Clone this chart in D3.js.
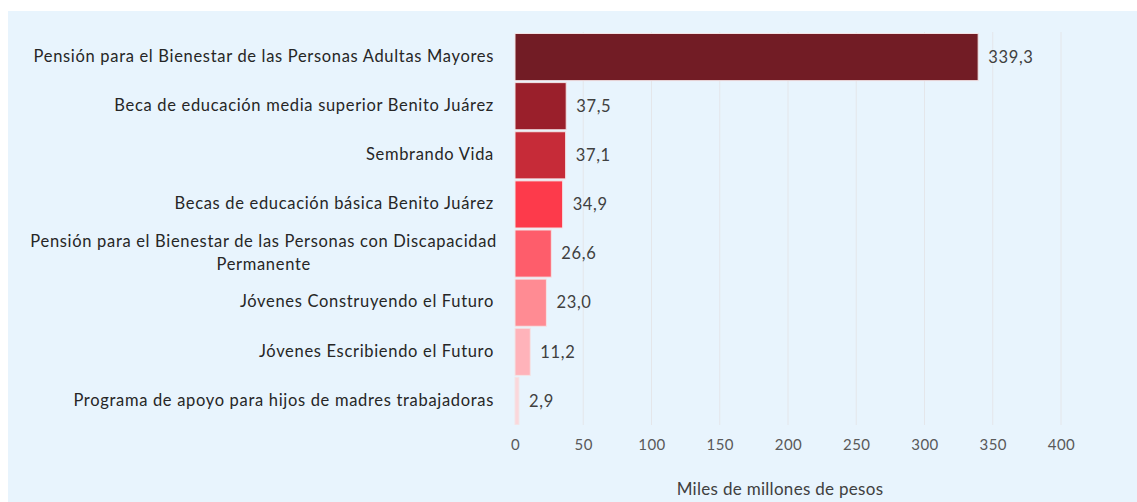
<!DOCTYPE html>
<html>
<head>
<meta charset="utf-8">
<script src="https://cdn.jsdelivr.net/npm/d3@7"></script>
<style>
    html, body { margin: 0; padding: 0; background: #ffffff; }
    svg { display: block; font-family: "Lato", "Open Sans", sans-serif; }
</style>
</head>
<body>
<div id="chart"></div>
<script>
// data
const categories = [
    "Pensión para el Bienestar de las Personas Adultas Mayores",
    "Beca de educación media superior Benito Juárez",
    "Sembrando Vida",
    "Becas de educación básica Benito Juárez",
    "Pensión para el Bienestar de las Personas con Discapacidad\nPermanente",
    "Jóvenes Construyendo el Futuro",
    "Jóvenes Escribiendo el Futuro",
    "Programa de apoyo para hijos de madres trabajadoras"
];
const values = [339.3, 37.5, 37.1, 34.9, 26.6, 23.0, 11.2, 2.9];
const barColors = ["#721c25", "#9a1f2b", "#c62b38", "#fd3a4b", "#fe5d6b", "#ff8b93", "#ffb3ba", "#fbd7db"];
const xTicks = [0, 50, 100, 150, 200, 250, 300, 350, 400];
const xTitle = "Miles de millones de pesos";

const W = 1137, H = 502;
const plotLeft = 515, plotRight = 1061, plotTop = 33, plotBottom = 425;
const labelRight = 494;
const fontSize = 16.5, spacing = "0.68px";

const fmt = (v) => v.toFixed(1).replace(".", ",");

const svg = d3.select("#chart")
    .append("svg")
    .attr("width", W)
    .attr("height", H);

// light panel
svg.append("rect")
    .attr("x", 8)
    .attr("y", 11)
    .attr("width", W - 8)
    .attr("height", H - 11)
    .attr("fill", "#e8f4fd");

const x = d3.scaleLinear().domain([0, 400]).range([plotLeft, plotRight]);
const y = d3.scaleBand().domain(categories).range([plotTop, plotBottom]).paddingInner(0.04).paddingOuter(0.01);

// gridlines
svg.append("g")
    .selectAll("line")
    .data(xTicks.slice(1))
    .enter()
    .append("line")
    .attr("x1", (d) => x(d))
    .attr("x2", (d) => x(d))
    .attr("y1", plotTop - 1)
    .attr("y2", plotBottom)
    .attr("stroke", "#e4e6ea")
    .attr("stroke-width", 1);

// x axis (labels only)
const xAxis = svg.append("g")
    .attr("transform", `translate(0, ${plotBottom + 14})`)
    .call(d3.axisBottom(x).tickValues(xTicks).tickSize(0).tickPadding(0).tickFormat(d3.format("d")));
xAxis.select(".domain").remove();
xAxis.selectAll("text")
    .attr("font-size", 15)
    .attr("font-family", "Lato, sans-serif")
    .attr("letter-spacing", "0.5px")
    .attr("fill", "#595959")
    .attr("dy", "0.71em");

svg.append("text")
    .attr("x", (plotLeft + plotRight) / 2 - 8)
    .attr("y", 495)
    .attr("text-anchor", "middle")
    .attr("font-size", 17)
    .attr("letter-spacing", "0.3px")
    .attr("fill", "#404040")
    .text(xTitle);

// bars
svg.append("g")
    .selectAll("rect")
    .data(values)
    .enter()
    .append("rect")
    .attr("x", x(0))
    .attr("y", (d, i) => y(categories[i]))
    .attr("width", (d) => x(d) - x(0))
    .attr("height", y.bandwidth())
    .attr("fill", (d, i) => barColors[i])
    .attr("stroke", "#f3e4e6")
    .attr("stroke-width", 1);

// value labels
svg.append("g")
    .selectAll("text")
    .data(values)
    .enter()
    .append("text")
    .attr("x", (d) => x(d) + 10)
    .attr("y", (d, i) => y(categories[i]) + y.bandwidth() / 2)
    .attr("dy", "0.35em")
    .attr("font-size", fontSize)
    .attr("letter-spacing", spacing)
    .attr("fill", "#404040")
    .text((d) => fmt(d));

// category labels (wrapped ones are centred as a block)
const catG = svg.append("g");
categories.forEach((cat, i) => {
    const lines = cat.split("\n");
    const cy = y(cat) + y.bandwidth() / 2;
    const lh = 23;
    const t = catG.append("text")
        .attr("font-size", fontSize)
        .attr("letter-spacing", spacing)
        .attr("fill", "#262626");
    lines.forEach((line, j) => {
        t.append("tspan")
            .attr("x", labelRight)
            .attr("y", cy + (j - (lines.length - 1) / 2) * lh - 1)
            .attr("dy", "0.35em")
            .text(line);
    });
    if (lines.length > 1) {
        const widths = t.selectAll("tspan").nodes().map(n => n.getComputedTextLength());
        const maxW = d3.max(widths);
        t.attr("text-anchor", "middle")
            .selectAll("tspan")
            .attr("x", labelRight + 3 - maxW / 2);
    } else {
        t.attr("text-anchor", "end");
    }
});
</script>
</body>
</html>
